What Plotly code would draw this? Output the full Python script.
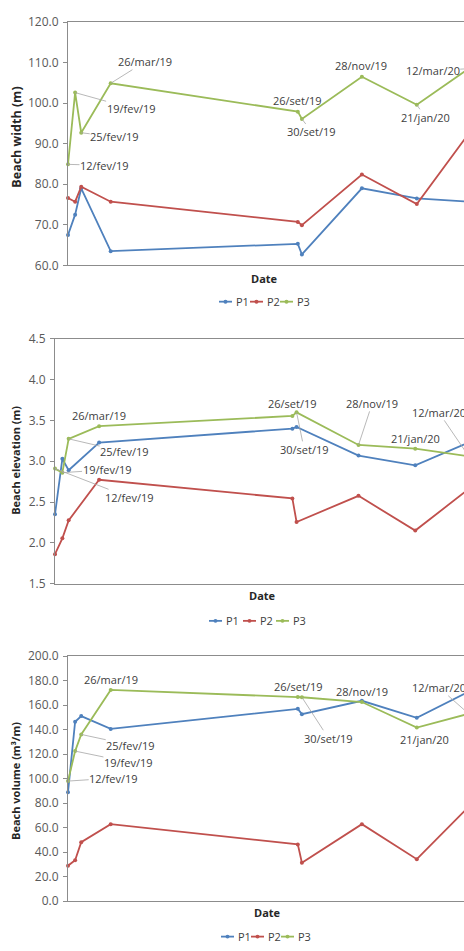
import plotly.graph_objects as go
from datetime import datetime, timedelta

# ---------------- data ----------------
dates = ["2019-02-12", "2019-02-19", "2019-02-25", "2019-03-26", "2019-09-26",
         "2019-09-30", "2019-11-28", "2020-01-21", "2020-03-12"]
date_labels = ["12/fev/19", "19/fev/19", "25/fev/19", "26/mar/19", "26/set/19",
               "30/set/19", "28/nov/19", "21/jan/20", "12/mar/20"]
series_names = ["P1", "P2", "P3"]

width_p1 = [67.5, 72.5, 79.0, 63.5, 65.3, 62.7, 79.0, 76.5, 75.7]
width_p2 = [76.6, 75.7, 79.4, 75.7, 70.7, 69.9, 82.4, 75.1, 92.5]
width_p3 = [84.9, 102.6, 92.7, 104.9, 97.9, 96.1, 106.5, 99.6, 108.5]

elev_p1 = [2.35, 3.03, 2.89, 3.23, 3.40, 3.42, 3.07, 2.95, 3.23]
elev_p2 = [1.86, 2.055, 2.275, 2.773, 2.544, 2.255, 2.576, 2.15, 2.66]
elev_p3 = [2.91, 2.86, 3.275, 3.43, 3.556, 3.60, 3.20, 3.155, 3.06]

vol_p1 = [88.8, 146.5, 151.1, 140.6, 157.0, 152.7, 163.6, 149.7, 171.0]
vol_p2 = [28.9, 33.4, 48.1, 62.8, 46.3, 31.3, 62.8, 34.2, 77.0]
vol_p3 = [98.0, 122.5, 136.1, 172.5, 166.6, 166.5, 162.6, 141.7, 153.0]

y_titles = ["Beach width (m)", "Beach elevation (m)", "Beach volume (m³/m)"]
y_ranges = [(60, 120), (1.5, 4.5), (0, 200)]
y_dticks = [10, 0.5, 20]
x_title = "Date"

# ---------------- style / layout ----------------
W, H = 464, 951
FONT = "Open Sans"
COLORS = ["#4F81BD", "#C0504D", "#9BBB59"]
AXIS_COLOR = "#8C8C8C"
TEXT_COLOR = "#404040"
LEADER = "#A6A6A6"

x_start = "2019-02-12"
x_end = "2020-03-07 10:00"

# plot area boxes in pixels: (left, top, bottom)
boxes = [(68, 13.3, 261.0), (55, 336.0, 585.0), (68, 659.0, 908.3)]

def px(x):
    return x / W

def py(y):
    return 1 - y / H

fig = go.Figure()

all_data = [
    [width_p1, width_p2, width_p3],
    [elev_p1, elev_p2, elev_p3],
    [vol_p1, vol_p2, vol_p3],
]

for i, (series, box) in enumerate(zip(all_data, boxes)):
    sfx = "" if i == 0 else str(i + 1)
    for name, vals, col in zip(series_names, series, COLORS):
        fig.add_trace(go.Scatter(
            x=dates, y=vals, name=name, mode="lines+markers",
            line=dict(color=col, width=1.8),
            marker=dict(color=col, size=4),
            xaxis="x" + sfx, yaxis="y" + sfx,
            showlegend=False, cliponaxis=False, hoverinfo="skip",
        ))
    left, top, bottom = box
    fig.layout["xaxis" + sfx] = dict(
        type="date", range=[x_start, x_end], domain=[px(left), 1],
        anchor="y" + sfx, showline=True, mirror=True, linecolor=AXIS_COLOR,
        linewidth=1, showgrid=False, zeroline=False, showticklabels=False,
        ticks="",
    )
    fig.layout["yaxis" + sfx] = dict(
        range=list(y_ranges[i]), dtick=y_dticks[i], tick0=y_ranges[i][0],
        domain=[py(bottom), py(top)], anchor="x" + sfx,
        showline=True, linecolor=AXIS_COLOR, linewidth=1, showgrid=False,
        zeroline=False, ticks="outside", ticklen=4, tickcolor=AXIS_COLOR,
        tickformat=".1f", tickfont=dict(family=FONT, size=12, color="#595959"),
        ticklabelstandoff=2,
    )

annotations = []
shapes = []

# y-axis titles and x-axis titles
ytitle_pos = [(17, 131), (16, 460), (16, 786)]
ytitle_size = [12.5, 11, 11]
xtitle_pos = [(264, 274.5), (262, 597), (267, 920)]
for i in range(3):
    annotations.append(dict(
        text="<b>%s</b>" % y_titles[i], xref="paper", yref="paper",
        x=px(ytitle_pos[i][0]), y=py(ytitle_pos[i][1]), textangle=-90,
        showarrow=False, font=dict(family=FONT, size=ytitle_size[i], color="#262626"),
        xanchor="center", yanchor="middle",
    ))
    annotations.append(dict(
        text="<b>%s</b>" % x_title, xref="paper", yref="paper",
        x=px(xtitle_pos[i][0]), y=py(xtitle_pos[i][1]),
        showarrow=False, font=dict(family=FONT, size=11, color="#262626"),
        xanchor="center", yanchor="middle",
    ))

# manual legends: (y, text left edges)
legend_pos = [(298, [234, 265, 295]), (623, [224, 258, 291]), (944.5, [236, 266, 296])]
for ly, lefts in legend_pos:
    for name, col, tx in zip(series_names, COLORS, lefts):
        shapes.append(dict(type="line", xref="paper", yref="paper",
                           x0=px(tx - 15), x1=px(tx - 2), y0=py(ly), y1=py(ly),
                           line=dict(color=col, width=1.8)))
        shapes.append(dict(type="circle", xref="paper", yref="paper",
                           x0=px(tx - 10.5), x1=px(tx - 6.5),
                           y0=py(ly + 2), y1=py(ly - 2),
                           fillcolor=col, line=dict(width=0)))
        annotations.append(dict(
            text=name, xref="paper", yref="paper", x=px(tx), y=py(ly),
            xanchor="left", yanchor="middle", showarrow=False,
            font=dict(family=FONT, size=11, color=TEXT_COLOR),
        ))

# data labels (attached to P3 points): (index, dx, dy, leader)
label_specs = [
    [(0, 36.5, 1, True), (1, 56, 15.6, True), (2, 33.5, 4, True), (3, 34.5, -21.6, True),
     (4, 0, -11, False), (5, 10, 13, True), (6, -1, -11.5, False), (7, 8.6, 12.5, True),
     (8, -36, 2, True)],
    [(0, 74.3, 28.7, True), (1, 44.7, -3, True), (2, 56, 13, True), (3, 0, -10.5, False),
     (4, 0.5, -12, False), (5, 7.6, 37, True), (6, 13.7, -41.6, True), (7, 0.2, -10.3, False),
     (8, -30, -44, True)],
    [(0, 45.7, -3, True), (1, 53.3, 11, True), (2, 49.5, 10.6, True), (3, 0, -10, False),
     (4, 0.2, -10.6, False), (5, 26.6, 41, True), (6, 0.3, -10.6, False), (7, 7.5, 11.6, False),
     (8, -29.5, -26, True)],
]

x0_dt = datetime.strptime(x_start, "%Y-%m-%d")
x1_dt = datetime.strptime(x_end, "%Y-%m-%d %H:%M")
span_days = (x1_dt - x0_dt).total_seconds() / 86400.0

for i, specs in enumerate(label_specs):
    sfx = "" if i == 0 else str(i + 1)
    p3 = all_data[i][2]
    plot_w = W - boxes[i][0]
    px_per_day = plot_w / span_days
    for idx, dx, dy, leader in specs:
        base = dict(text=date_labels[idx], x=dates[idx], y=p3[idx],
                    xref="x" + sfx, yref="y" + sfx,
                    font=dict(family=FONT, size=11, color=TEXT_COLOR))
        d = datetime.strptime(dates[idx], "%Y-%m-%d")
        if d > x1_dt:
            tail = d + timedelta(days=dx / px_per_day)
            base.update(showarrow=True, axref="x" + sfx, ax=tail.strftime("%Y-%m-%d %H:%M"),
                        ayref="pixel", ay=dy, arrowhead=0, arrowwidth=0.8,
                        arrowcolor=LEADER, standoff=0, borderpad=0)
        elif leader:
            base.update(showarrow=True, ax=dx, ay=dy, arrowhead=0, arrowwidth=0.8,
                        arrowcolor=LEADER, standoff=0, borderpad=0)
        else:
            base.update(showarrow=False, xshift=dx, yshift=-dy)
        annotations.append(base)

fig.update_layout(
    width=W, height=H, margin=dict(l=0, r=0, t=0, b=0),
    paper_bgcolor="white", plot_bgcolor="white",
    font=dict(family=FONT, size=11, color=TEXT_COLOR),
    annotations=annotations, shapes=shapes, showlegend=False,
)

fig.write_html("out.html")
